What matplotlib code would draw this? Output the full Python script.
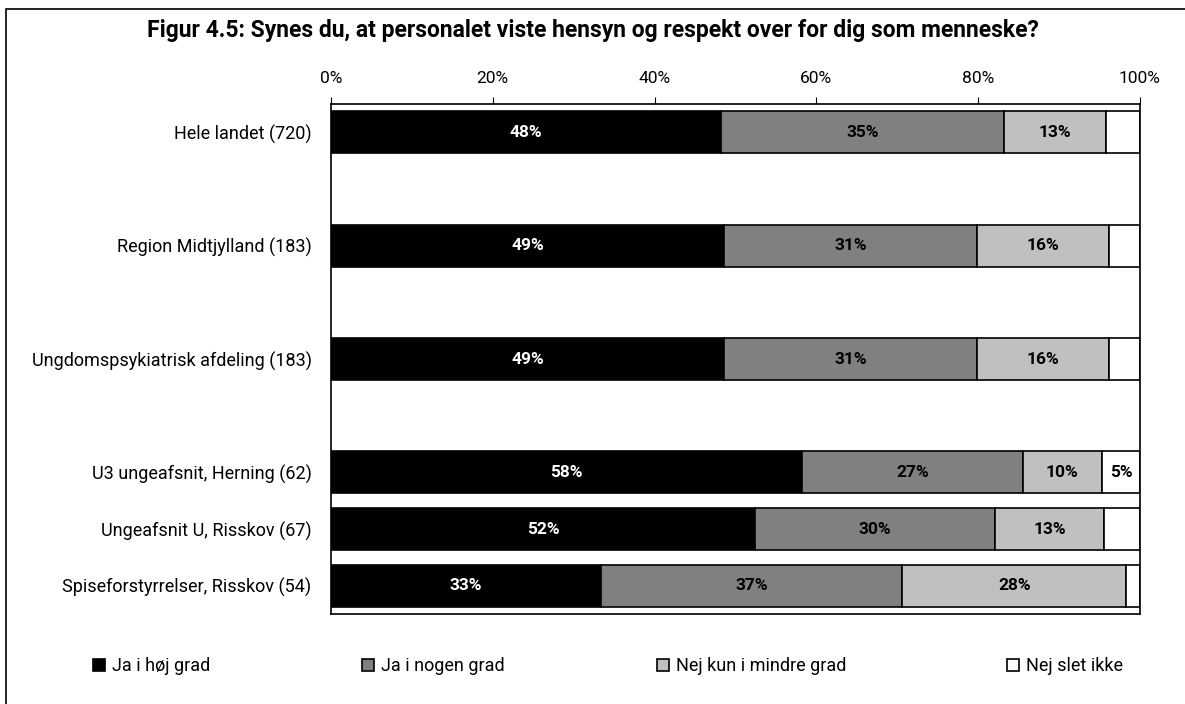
import numpy as np
import matplotlib
matplotlib.use("Agg")
from matplotlib import pyplot as plt
from matplotlib.patches import Rectangle

plt.rcParams["font.family"] = ["Roboto", "DejaVu Sans"]

# data
categories = [
    "Hele landet (720)",
    "Region Midtjylland (183)",
    "Ungdomspsykiatrisk afdeling (183)",
    "U3 ungeafsnit, Herning (62)",
    "Ungeafsnit U, Risskov (67)",
    "Spiseforstyrrelser, Risskov (54)",
]
# row slot of each category (blank slots separate the first groups)
rows = [0, 2, 4, 6, 7, 8]

series = ["Ja i høj grad", "Ja i nogen grad", "Nej kun i mindre grad", "Nej slet ikke"]
ja_hoj = [48.2, 48.6, 48.6, 58.2, 52.4, 33.4]
ja_nogen = [35.0, 31.3, 31.3, 27.3, 29.7, 37.2]
nej_mindre = [12.6, 16.3, 16.3, 9.8, 13.4, 27.7]
nej_slet = [4.2, 3.8, 3.8, 4.7, 4.5, 1.7]

colors = ["#000000", "#808080", "#c0c0c0", "#ffffff"]
text_colors = ["white", "black", "black", "black"]
show_min = 4.6


def main():
    fig = plt.figure(figsize=(11.85, 7.04), dpi=100)
    ax = fig.add_axes([331 / 1185, 1 - 614 / 704, 809 / 1185, 510 / 704])

    data = [ja_hoj, ja_nogen, nej_mindre, nej_slet]
    left = np.zeros(len(categories))
    handles = []
    for vals, col, tcol, name in zip(data, colors, text_colors, series):
        vals = np.array(vals)
        bars = ax.barh(rows, vals, left=left, height=0.74, color=col,
                       edgecolor="black", linewidth=1.2, label=name)
        handles.append(bars)
        for r, v, l in zip(rows, vals, left):
            if v >= show_min:
                ax.text(l + v / 2, r, f"{v:.0f}%", ha="center", va="center",
                        color=tcol, fontsize=12.5, fontweight="bold")
        left += vals

    ax.set_xlim(0, 100)
    ax.set_ylim(8.5, -0.5)
    ax.set_yticks(rows)
    ax.set_yticklabels(categories, fontsize=13)
    ax.tick_params(axis="y", length=0, pad=14)
    ax.xaxis.tick_top()
    ax.set_xticks(np.arange(0, 101, 20))
    ax.set_xticklabels([f"{t}%" for t in range(0, 101, 20)], fontsize=12.5)
    ax.tick_params(axis="x", length=5, width=0.8, pad=8)
    for s in ax.spines.values():
        s.set_linewidth(1.2)

    fig.text(593 / 1185, 1 - 30 / 704,
             "Figur 4.5: Synes du, at personalet viste hensyn og respekt over for dig som menneske?",
             ha="center", va="center", fontsize=16.5, fontweight="bold")

    # legend entries spread along the bottom
    leg_x = [93, 362, 657, 1007]
    for h, name, x in zip(handles, series, leg_x):
        fig.legend(handles=[h], labels=[name], loc="center left",
                   bbox_to_anchor=(x / 1185, 1 - 666 / 704), frameon=False,
                   handlelength=0.65, handleheight=0.65, handletextpad=0.4,
                   fontsize=13, borderaxespad=0, borderpad=0)

    # outer frame (cut off at right and bottom in the reference)
    fig.add_artist(Rectangle((6 / 1185, -0.1), 1.2, 1 - 9 / 704 + 0.1,
                             transform=fig.transFigure, fill=False,
                             edgecolor="black", linewidth=1.2))

    fig.savefig("out.png", dpi=100)


if __name__ == "__main__":
    main()
